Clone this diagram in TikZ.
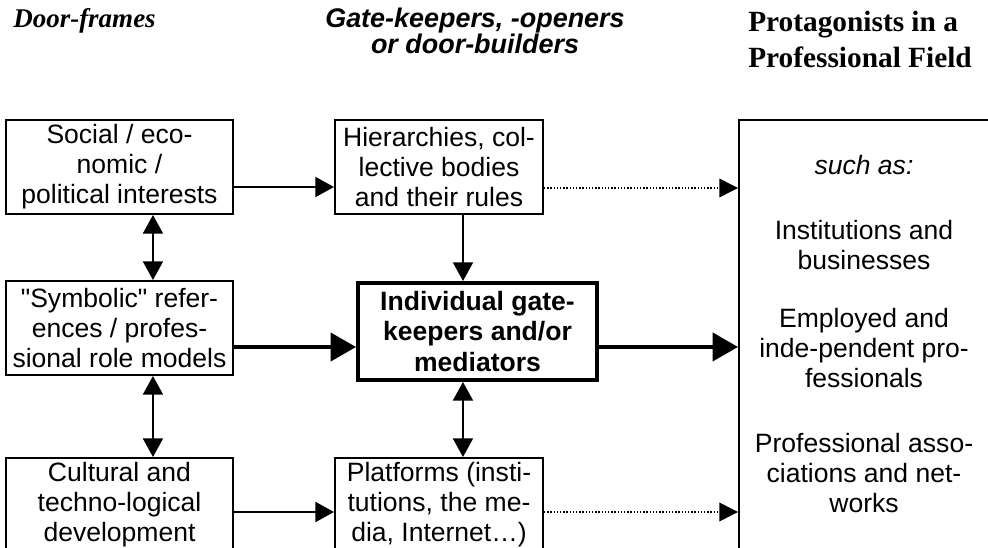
\documentclass[tikz,border=0pt]{standalone}
\usepackage{fontspec}
\setmainfont{Liberation Serif}
\setsansfont{Liberation Sans}[Ligatures=TeXOff]
\usepackage{graphicx}
\usetikzlibrary{arrows.meta,calc}
\tikzset{
  bodyfont/.style={font=\sffamily\fontsize{19.9pt}{22.5pt}\selectfont},
  box/.style={draw, line width=1.5pt, inner sep=0pt, align=center, bodyfont},
  leftbox/.style={box, minimum width=170.25pt, minimum height=70.5pt},
  midbox/.style={box, minimum width=156pt, minimum height=70.5pt},
  boldbox/.style={box, line width=3pt, minimum width=179.25pt, minimum height=72.75pt,
    font=\sffamily\bfseries\fontsize{19.9pt}{23pt}\selectfont},
  listtext/.style={align=center, inner sep=0pt, bodyfont},
  thinarr/.style={line width=1.5pt, -{Triangle[length=14pt,width=15pt]}},
  thickarr/.style={line width=3pt, -{Triangle[length=19pt,width=21pt]}},
  dotarr/.style={line width=1.1pt, dash pattern=on 1.1pt off 1.3pt, -{Triangle[length=14pt,width=14pt]}},
  dblarr/.style={line width=1.5pt, {Triangle[length=14pt,width=15pt]}-{Triangle[length=14pt,width=15pt]}},
}
\begin{document}
\begin{tikzpicture}[x=0.75pt,y=-0.75pt]
\useasboundingbox (0,0) rectangle (988,548);
% headers
\node[anchor=base west, inner sep=0pt, font=\rmfamily\bfseries\itshape\fontsize{20.25pt}{22pt}\selectfont] (h1) at (13,28) {Door-frames};
\node[align=center, inner sep=0pt, font=\sffamily\bfseries\itshape\fontsize{20.2pt}{19.5pt}\selectfont] (h2) at (475,31) {Gate-keepers, -openers\\or door-builders};
\node[align=left, anchor=west, inner sep=0pt, font=\rmfamily\bfseries\fontsize{22pt}{27pt}\selectfont] (h3) at (748,39) {Protagonists in a\\Professional Field};
% boxes
\node[leftbox] (soc) at (119.5,167) {Social / eco-\\nomic /\\political interests};
\node[leftbox] (sym) at (119.5,328) {"Symbolic" refer-\\ences / profes-\\sional role models};
\node[leftbox] (cult) at (119.5,505) {Cultural and\\techno-logical\\development};
\node[midbox] (hier) at (439,167) {Hierarchies, col-\\lective bodies\\and their rules};
\node[boldbox] (ind) at (477.5,331.5) {Individual gate-\\keepers and/or\\mediators};
\node[midbox] (plat) at (439,505) {Platforms (insti-\\tutions, the me-\\dia, Internet…)};
\node[draw, line width=1.5pt, minimum width=192pt, minimum height=330pt, inner sep=0pt] (prot) at (867,340) {};
% right list
\node[listtext, font=\sffamily\itshape\fontsize{19.9pt}{22.5pt}\selectfont] (t0) at (864,165) {such as:};
\node[listtext] (t1) at (864,245) {Institutions and\\businesses};
\node[listtext] (t2) at (864,348) {Employed and\\inde-pendent pro-\\fessionals};
\node[listtext] (t3) at (864,473) {Professional asso-\\ciations and net-\\works};
% horizontal connectors
\coordinate (a1) at ([yshift=-15pt]soc.east);
\draw[thinarr] (a1) -- (a1 -| hier.west);
\coordinate (a2) at ([yshift=-15.75pt]hier.east);
\draw[dotarr] (a2) -- (a2 -| prot.west);
\coordinate (a3) at ([yshift=-14.25pt]sym.east);
\draw[thickarr] (a3) -- (a3 -| ind.west);
\coordinate (a4) at ([yshift=-11.6pt]ind.east);
\draw[thickarr] (a4) -- (a4 -| prot.west);
\coordinate (a5) at ([yshift=-5.25pt]cult.east);
\draw[thinarr] (a5) -- (a5 -| plat.west);
\coordinate (a6) at ([yshift=-5.25pt]plat.east);
\draw[dotarr] (a6) -- (a6 -| prot.west);
% vertical connectors
\coordinate (v1) at ([xshift=25.1pt]soc.south);
\draw[dblarr] (v1) -- (v1 |- sym.north);
\coordinate (v2) at ([xshift=25.1pt]sym.south);
\draw[dblarr] (v2) -- (v2 |- cult.north);
\coordinate (v3) at ([xshift=18pt]hier.south);
\draw[thinarr] (v3) -- (v3 |- ind.north);
\coordinate (v4) at ([xshift=-10.9pt]ind.south);
\draw[dblarr] (v4) -- (v4 |- plat.north);
\end{tikzpicture}
\end{document}
